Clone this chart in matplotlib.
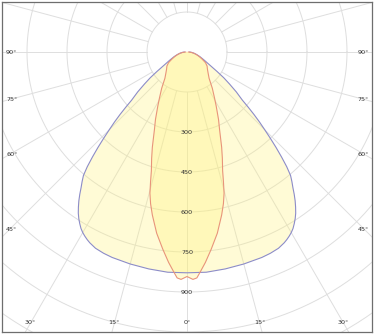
import numpy as np
import matplotlib
matplotlib.use("Agg")
import matplotlib.pyplot as plt

# half-curves (angle from nadir in deg, intensity in cd), mirrored for the other side
blue_ang = [0, 5, 10, 15, 20, 22.5, 25, 27, 28, 29, 30, 31, 32, 33, 34, 35, 36, 37, 38, 39, 40, 41, 42,
            43, 44, 45, 46, 47, 48, 49, 51, 53, 55, 57, 60, 65, 70, 75, 80, 85, 90]
blue_cd = [828, 829, 826, 823, 820, 817, 812, 803, 797, 790, 782, 772, 759, 745, 729, 710, 690, 668, 645, 625, 604, 570, 530,
           490, 450, 412, 378, 343, 308, 275, 238, 200, 168, 135, 100, 70, 52, 38, 27, 18, 10]

red_ang = [0, 1.5, 2.5, 3.5, 5, 7, 9.5, 12, 13.5, 14.7, 15.7, 16.7, 18.4, 20, 22.8, 25, 28.4, 31, 34.9, 40, 45,
           50, 55, 60, 65, 70, 75, 80, 85, 90]
red_cd = [842, 853, 848, 825, 792, 745, 689, 625, 585, 548, 505, 465, 420, 380, 315, 280, 230, 200, 166, 129, 112,
          100, 92, 80, 62, 48, 36, 26, 15, 5]

ring_values = [150, 300, 450, 600, 750, 900, 1050, 1200, 1350]
ring_labels = [300, 450, 600, 750, 900]
side_angles = [90, 75, 60, 45]
bottom_angles = [30, 15, 0]

fig = plt.figure(figsize=(3.75, 3.35), dpi=100)
ax = fig.add_axes([2 / 375, 3 / 335, 370 / 375, 330 / 335])
# origin at pixel (187, 52), 3.75 cd per pixel
k = 3.75
ax.set_xlim(-185 * k, 185 * k)
ax.set_ylim(-280 * k, 50 * k)
ax.set_aspect("equal")
ax.set_xticks([])
ax.set_yticks([])
for s in ax.spines.values():
    s.set_color("#6e6e6e")
    s.set_linewidth(0.9)

gc = "#dedede"
t = np.linspace(0, 2 * np.pi, 400)
for r in ring_values:
    ax.plot(r * np.cos(t), r * np.sin(t), color=gc, lw=0.7, zorder=1)
for a in range(0, 360, 15):
    g = np.radians(a)
    ax.plot([150 * np.sin(g), 1800 * np.sin(g)], [-150 * np.cos(g), -1800 * np.cos(g)],
            color=gc, lw=0.7, zorder=1)


def curve(ang, cd):
    ang = np.radians(np.array(ang))
    cd = np.array(cd)
    a = np.concatenate([-ang[::-1], ang[1:]])
    c = np.concatenate([cd[::-1], cd[1:]])
    return c * np.sin(a), -c * np.cos(a)


bx, by = curve(blue_ang, blue_cd)
rx, ry = curve(red_ang, red_cd)
ax.fill(bx, by, color="#fff27a", alpha=0.3, lw=0, zorder=2)
ax.fill(rx, ry, color="#fff27a", alpha=0.3, lw=0, zorder=2)
ax.plot(bx, by, color="#8c8cc8", lw=0.8, zorder=3)
ax.plot(rx, ry, color="#e8947a", lw=0.8, zorder=3)

tc = "#333333"
fs = 4.6
for r in ring_labels:
    ax.text(0, -r, str(r), ha="center", va="center", fontsize=fs, color=tc, zorder=4)
for a in side_angles:
    y = -177 / np.tan(np.radians(a)) * k if a != 90 else 0
    ax.text(-181 * k, y, f"{a}°", ha="left", va="center", fontsize=fs, color=tc, zorder=4)
    ax.text(182 * k, y, f"{a}°", ha="right", va="center", fontsize=fs, color=tc, zorder=4)
for a in bottom_angles:
    x = 271 * np.tan(np.radians(a)) * k
    ax.text(-x, -271 * k, f"{a}°", ha="center", va="center", fontsize=fs, color=tc, zorder=4)
    if a != 0:
        ax.text(x, -271 * k, f"{a}°", ha="center", va="center", fontsize=fs, color=tc, zorder=4)

fig.savefig("out.png", dpi=100)
